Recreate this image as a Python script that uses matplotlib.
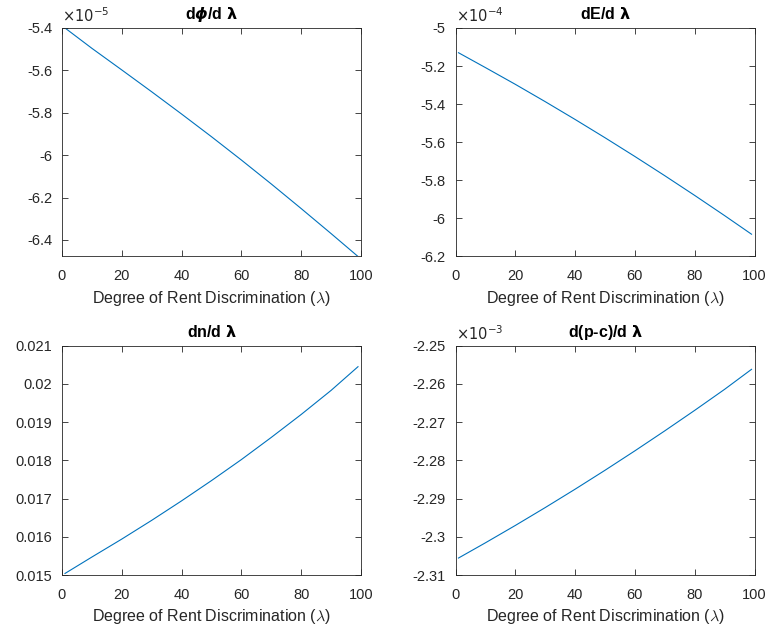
import matplotlib.pyplot as plt
from matplotlib.ticker import FuncFormatter, MultipleLocator

plt.rcParams['font.family'] = ['Liberation Sans', 'DejaVu Sans']
plt.rcParams['axes.unicode_minus'] = False

# values at lambda = 1, 10, 20, ..., 90, 99
lam = [1, 10, 20, 30, 40, 50, 60, 70, 80, 90, 99]
dphi = [-5.400e-5, -5.496e-5, -5.598e-5, -5.701e-5, -5.806e-5, -5.913e-5,
        -6.023e-5, -6.136e-5, -6.252e-5, -6.370e-5, -6.478e-5]
dE = [-5.1300e-4, -5.2080e-4, -5.2959e-4, -5.3869e-4, -5.4804e-4, -5.5764e-4,
      -5.6749e-4, -5.7759e-4, -5.8794e-4, -5.9854e-4, -6.0831e-4]
dn = [0.01504, 0.01547, 0.01594, 0.01643, 0.01694, 0.01747,
      0.01802, 0.01860, 0.01920, 0.01983, 0.02045]
dpc = [-2.30556e-3, -2.30158e-3, -2.29704e-3, -2.29236e-3, -2.28755e-3, -2.28260e-3,
       -2.27751e-3, -2.27228e-3, -2.26692e-3, -2.26142e-3, -2.25619e-3]

titles = [r'd$\boldsymbol{\phi}$/d $\boldsymbol{\lambda}$',
          r'dE/d $\boldsymbol{\lambda}$',
          r'dn/d $\boldsymbol{\lambda}$',
          r'd(p-c)/d $\boldsymbol{\lambda}$']
series = [dphi, dE, dn, dpc]
ylims = [(-6.478e-5, -5.4e-5), (-6.2e-4, -5e-4), (0.015, 0.021), (-2.31e-3, -2.25e-3)]
ysteps = [0.2e-5, 0.2e-4, 0.001, 0.01e-3]
exps = [-5, -4, 0, -3]

fig = plt.figure(figsize=(7.71, 6.3), dpi=100)
boxes = [[0.0804, 0.5929, 0.3878, 0.3627],
         [0.5908, 0.5929, 0.3878, 0.3627],
         [0.0804, 0.0873, 0.3878, 0.3640],
         [0.5908, 0.0873, 0.3878, 0.3640]]

axc = '#262626'
for i in range(4):
    ax = fig.add_axes(boxes[i])
    ax.plot(lam, series[i], color='#0072BD', lw=0.8)
    ax.set_xlim(0, 100)
    ax.set_ylim(*ylims[i])
    ax.xaxis.set_major_locator(MultipleLocator(20))
    ax.yaxis.set_major_locator(MultipleLocator(ysteps[i]))
    scale = 10.0 ** exps[i]
    ax.yaxis.set_major_formatter(FuncFormatter(lambda v, p, s=scale: '%g' % round(v / s, 6)))
    ax.tick_params(direction='in', top=True, right=True, length=4, width=0.6,
                   labelsize=10.5, colors=axc)
    ax.tick_params(axis='x', pad=9)
    ax.tick_params(axis='y', pad=7)
    for sp in ax.spines.values():
        sp.set_color(axc)
        sp.set_linewidth(0.6)
    if exps[i] != 0:
        ax.text(0.0, 1.012, r'$\times10^{%d}$' % exps[i], transform=ax.transAxes,
                fontsize=10.5, color=axc, ha='left', va='bottom',
                math_fontfamily='dejavusans')
    ax.set_title(titles[i], fontsize=11.5, fontweight='bold', color='black', pad=6.5)
    ax.set_xlabel(r'Degree of Rent Discrimination ($\lambda$)', fontsize=11.5,
                  color=axc, math_fontfamily='cm', labelpad=4)

fig.savefig('out.png', dpi=100)
